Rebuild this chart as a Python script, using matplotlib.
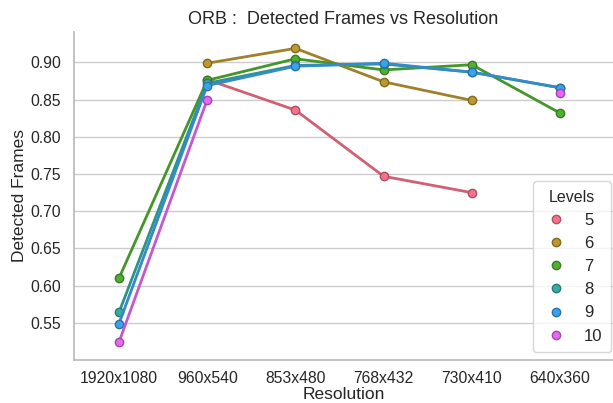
import numpy as np
import matplotlib
matplotlib.use("Agg")
import matplotlib.pyplot as plt
import seaborn as sns
from matplotlib.lines import Line2D

resolutions = ["1920x1080", "960x540", "853x480", "768x432", "730x410", "640x360"]
levels = ["5", "6", "7", "8", "9", "10"]
nan = np.nan
lvl5 = [nan, 0.877, 0.836, 0.747, 0.725, nan]
lvl6 = [nan, 0.899, 0.919, 0.874, 0.849, nan]
lvl7 = [0.610, 0.876, 0.905, 0.890, 0.897, 0.832]
lvl8 = [0.564, 0.872, 0.896, 0.898, 0.887, 0.866]
lvl9 = [0.549, 0.869, 0.895, 0.899, 0.887, 0.866]
lvl10 = [0.524, 0.850, nan, nan, nan, 0.859]
series = [lvl5, lvl6, lvl7, lvl8, lvl9, lvl10]

sns.set_theme(style="whitegrid")
plt.rcParams['font.family'] = ['Liberation Sans', 'DejaVu Sans']
base = sns.color_palette("husl", len(levels))
colors = [tuple(v * 0.85 for v in c) for c in base]
edges = [tuple(v * 0.7 for v in c) for c in base]

fig, ax = plt.subplots(figsize=(6.13, 4.03), dpi=100)
fig.subplots_adjust(left=0.1207, right=1.0, top=0.9206, bottom=0.1067)
x = np.arange(len(resolutions))
handles = []
for i, (lab, vals) in enumerate(zip(levels, series)):
    ax.plot(x, vals, color=colors[i], lw=2, marker="o", ms=6, mfc=base[i],
            mec=edges[i], mew=1, zorder=3)
    handles.append(Line2D([], [], color=colors[i], marker="o", ls="", ms=6,
                          mfc=base[i], mec=edges[i], label=lab))

ax.set_xticks(x)
ax.set_xticklabels(resolutions, fontsize=11.3, color="#262626")
ax.set_xlim(-0.51, 5.6)
ax.set_ylim(0.500, 0.941)
ax.set_yticks([0.55, 0.60, 0.65, 0.70, 0.75, 0.80, 0.85, 0.90])
ax.tick_params(axis="y", labelsize=11.3, labelcolor="#262626")
ax.tick_params(axis="x", pad=2)
ax.xaxis.grid(False)
ax.yaxis.grid(True, color="#cccccc", lw=1)
ax.set_xlabel("Resolution", fontsize=12.5, labelpad=1, color="#262626")
ax.set_ylabel("Detected Frames", fontsize=12.5, color="#262626", labelpad=2.4)
ax.set_title("ORB :  Detected Frames vs Resolution", fontsize=13, color="#262626", pad=5.7)
for s in ["top", "right"]:
    ax.spines[s].set_visible(False)
for s in ["left", "bottom"]:
    ax.spines[s].set_color("#bbbbbb")
leg = ax.legend(handles=handles, title="Levels", loc="lower right",
                bbox_to_anchor=(0.9963, 0.0244), fontsize=12,
                title_fontsize=11.5, frameon=True, handlelength=1.8, handletextpad=0.8,
                borderaxespad=0, labelspacing=0.49, borderpad=0.5)
fig.savefig("out.png", dpi=100)
